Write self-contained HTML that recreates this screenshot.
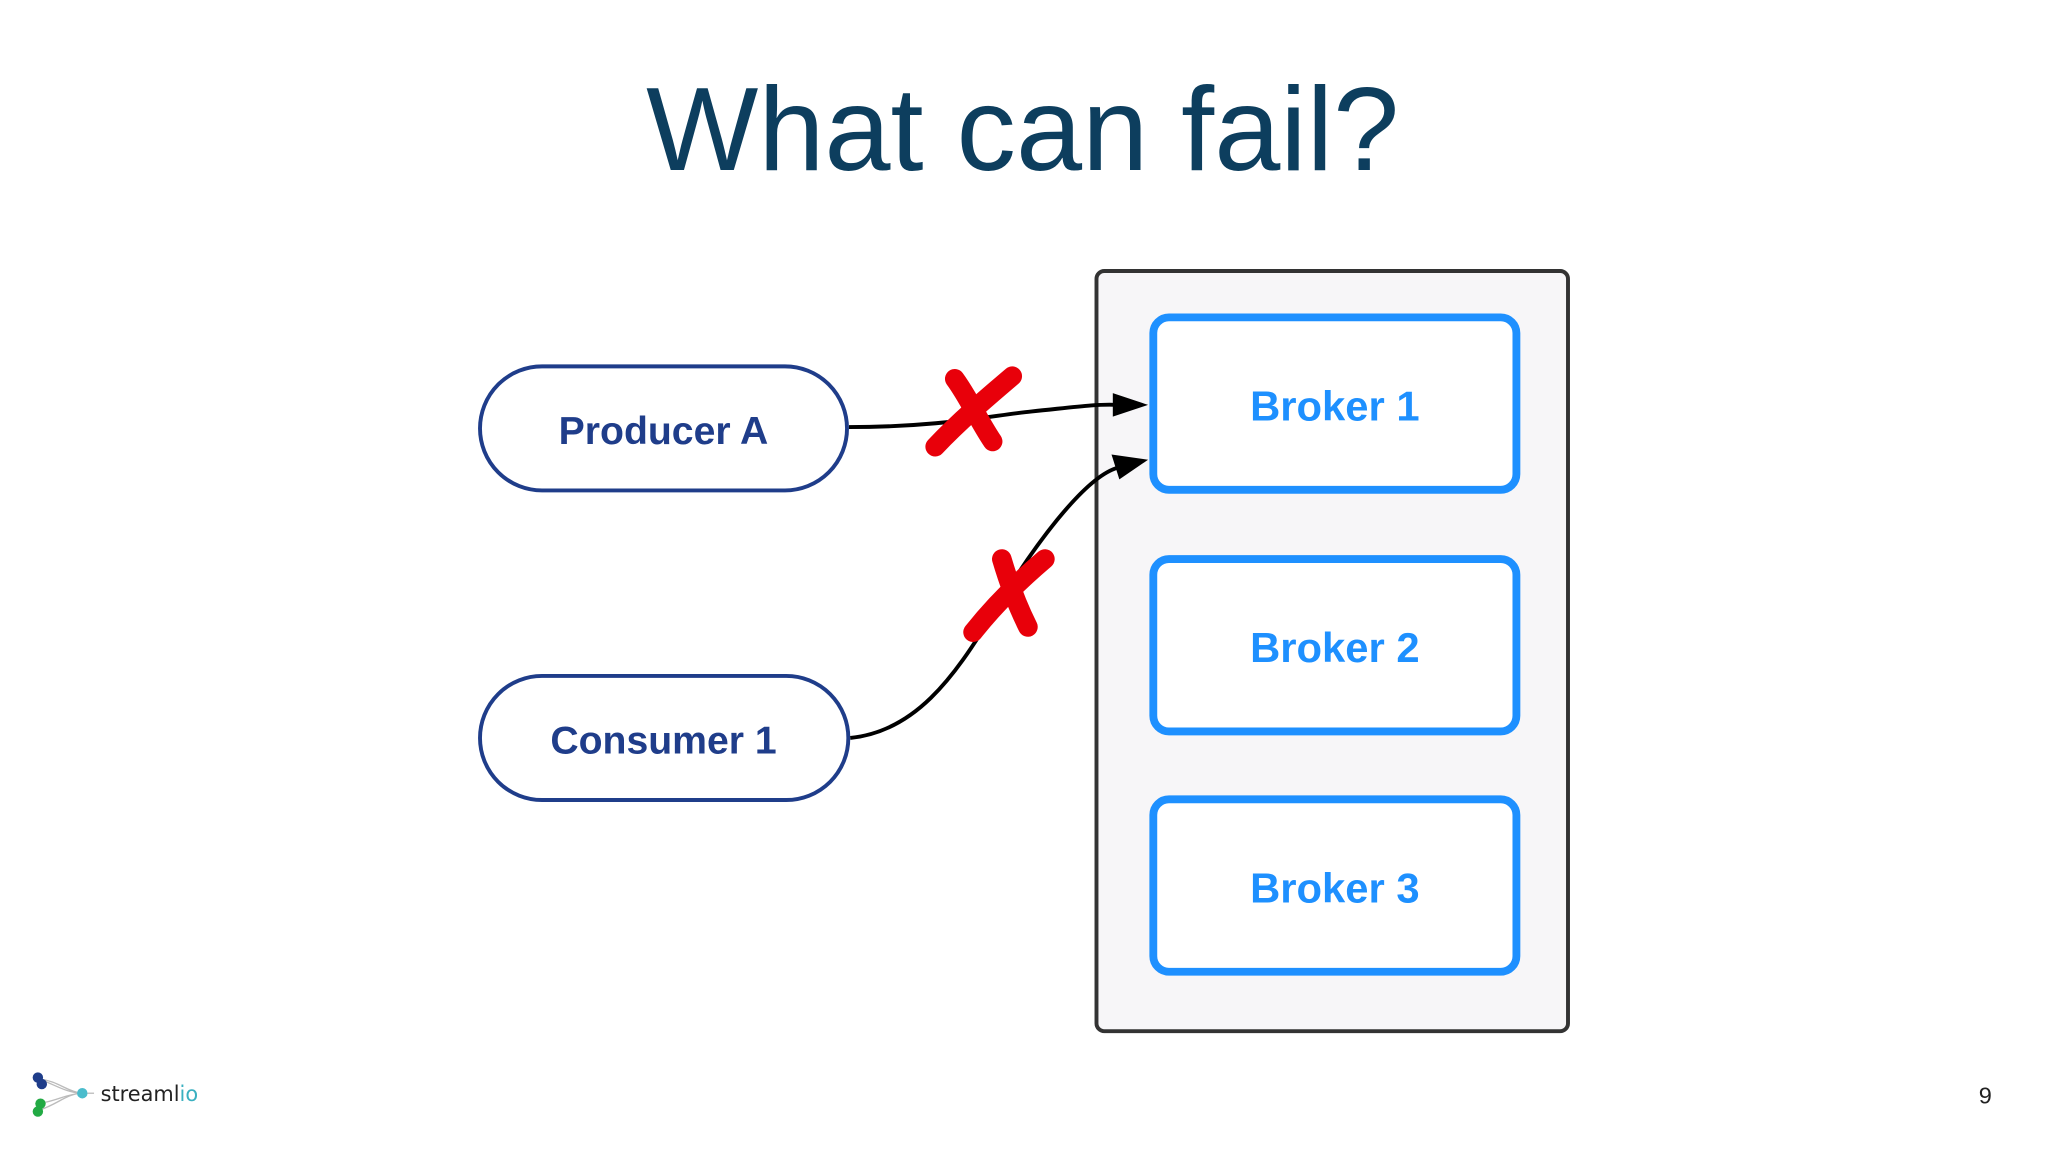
<!DOCTYPE html>
<html><head><meta charset="utf-8"><style>
html,body{margin:0;padding:0;background:#fff;width:2048px;height:1152px;overflow:hidden}
svg{display:block}
</style></head><body>
<svg width="2048" height="1152" viewBox="0 0 1568 882" xmlns="http://www.w3.org/2000/svg">
<rect width="1568" height="882" fill="#fff"/>
<text x="783" y="130" text-anchor="middle" font-family="Liberation Sans, sans-serif" font-size="91" fill="#0d3e5e">What can fail?</text>

<rect x="839.5" y="207.5" width="361" height="582" rx="6" fill="#f7f6f8" stroke="#333" stroke-width="3"/>
<g fill="#fff" stroke="#1e90ff" stroke-width="6">
<rect x="883" y="243" width="278" height="132" rx="12"/>
<rect x="883" y="428" width="278" height="132" rx="12"/>
<rect x="883" y="612" width="278" height="132" rx="12"/>
</g>
<g font-family="Liberation Sans, sans-serif" font-weight="bold" font-size="32" fill="#1e90ff" text-anchor="middle">
<text x="1022" y="322">Broker 1</text>
<text x="1022" y="507">Broker 2</text>
<text x="1022" y="691">Broker 3</text>
</g>

<g fill="#fff" stroke="#1f3d8a" stroke-width="3">
<rect x="367.5" y="280.5" width="281" height="95" rx="47.5"/>
<rect x="367.5" y="517.5" width="282" height="95" rx="47.5"/>
</g>
<g font-family="Liberation Sans, sans-serif" font-weight="bold" font-size="30" fill="#1f3d8a" text-anchor="middle">
<text x="508" y="340">Producer A</text>
<text x="508" y="577">Consumer 1</text>
</g>

<g fill="none" stroke="#000" stroke-width="3">
<path d="M650 327 C720 327, 760 318, 790 315 S840 309, 856 310"/>
<path d="M651 565 C700 560, 730 520, 760 470 S830 365, 856 358"/>
</g>
<polygon points="879,310 852,301 852,319" fill="#000"/>
<polygon points="879,352 851,348 857,367" fill="#000"/>

<g fill="none" stroke="#e8000a" stroke-linecap="round" stroke-width="15">
<path d="M731 290 C742 305, 748 320, 760 338"/>
<path d="M775 288 C755 305, 735 322, 716 342"/>
<path d="M767 428 C772 445, 778 462, 787 480"/>
<path d="M800 428 C780 445, 760 465, 745 484"/>
</g>

<g>
<path d="M30 826 C45 828, 50 835, 62 837 M30 826 C45 832, 50 836, 62 837 M34 844 C45 842, 50 838, 62 837 M30 850 C45 845, 50 838, 62 837" stroke="#bbb" stroke-width="1" fill="none"/>
<circle cx="29" cy="825" r="4" fill="#1f3d8a"/><circle cx="32" cy="830" r="4" fill="#1f3d8a"/>
<circle cx="31" cy="845" r="4" fill="#22aa44"/><circle cx="29" cy="851" r="4" fill="#22aa44"/>
<circle cx="63" cy="837" r="4" fill="#4bbccc"/>
<line x1="67" y1="837" x2="72" y2="837" stroke="#bbb" stroke-width="1"/>
<text x="77" y="843" font-family="DejaVu Sans, sans-serif" font-size="16" fill="#222">streaml<tspan fill="#3ab0c0">io</tspan></text>
</g>
<text x="1520" y="845" text-anchor="middle" font-family="Liberation Sans, sans-serif" font-size="18" fill="#222">9</text>
</svg>
</body></html>
